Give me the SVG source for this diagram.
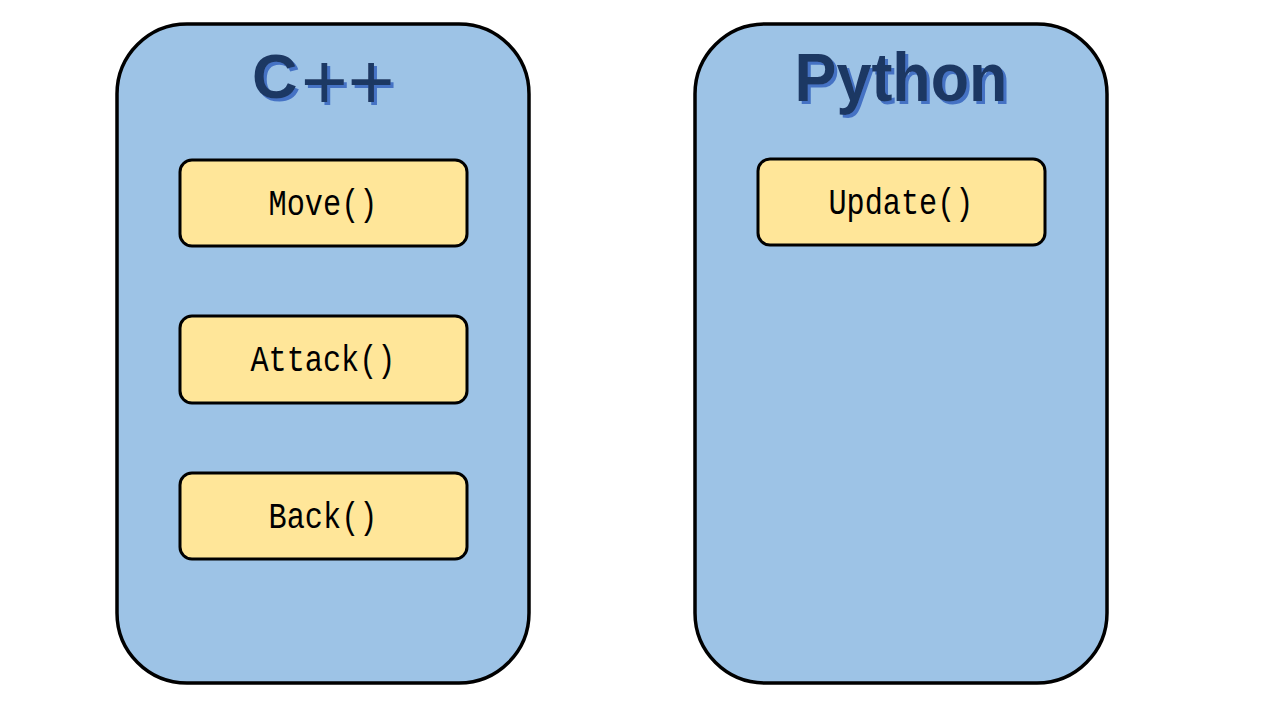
<svg xmlns="http://www.w3.org/2000/svg" width="1280" height="720" viewBox="0 0 1280 720">
<defs>
<filter id="shadow" x="-10%" y="-10%" width="130%" height="140%">
<feDropShadow dx="3" dy="3" stdDeviation="0.5" flood-color="#4472C4" flood-opacity="1"/>
</filter>
</defs>
<style>
.outer{fill:#9DC3E6;stroke:#000;stroke-width:3.5}
.inner{fill:#FFE699;stroke:#000;stroke-width:3}
.title{font-family:"Liberation Sans",Arial,sans-serif;font-weight:bold;font-size:68px;fill:#1F3864;filter:url(#shadow)}
.cc{font-size:63px}
.plus{font-weight:normal;font-size:80px}
.lbl{font-family:"Liberation Mono","DejaVu Sans Mono",monospace;font-size:37px;fill:#000;text-anchor:middle}
</style>
<rect width="1280" height="720" fill="#fff"/>
<g id="cpp">
<rect class="outer" x="117" y="24" width="412" height="659" rx="70" ry="70"/>
<text class="title cc" x="252" y="98">C<tspan class="plus" x="301" y="109">++</tspan></text>
</g>
<g id="python">
<rect class="outer" x="695" y="24" width="412" height="659" rx="70" ry="70"/>
<text class="title" x="901" y="101" text-anchor="middle" textLength="213" lengthAdjust="spacingAndGlyphs">Python</text>
</g>
<g id="move">
<rect class="inner" x="180" y="160" width="287" height="86" rx="12" ry="12"/>
<text class="lbl" x="323" y="215" textLength="109" lengthAdjust="spacingAndGlyphs">Move()</text>
</g>
<g id="attack">
<rect class="inner" x="180" y="316" width="287" height="87" rx="12" ry="12"/>
<text class="lbl" x="323" y="371" textLength="145" lengthAdjust="spacingAndGlyphs">Attack()</text>
</g>
<g id="back">
<rect class="inner" x="180" y="473" width="287" height="86" rx="12" ry="12"/>
<text class="lbl" x="323" y="528" textLength="109" lengthAdjust="spacingAndGlyphs">Back()</text>
</g>
<g id="update">
<rect class="inner" x="758" y="159" width="287" height="86" rx="12" ry="12"/>
<text class="lbl" x="901" y="214" textLength="145" lengthAdjust="spacingAndGlyphs">Update()</text>
</g>
<g id="connectors"></g>
</svg>
